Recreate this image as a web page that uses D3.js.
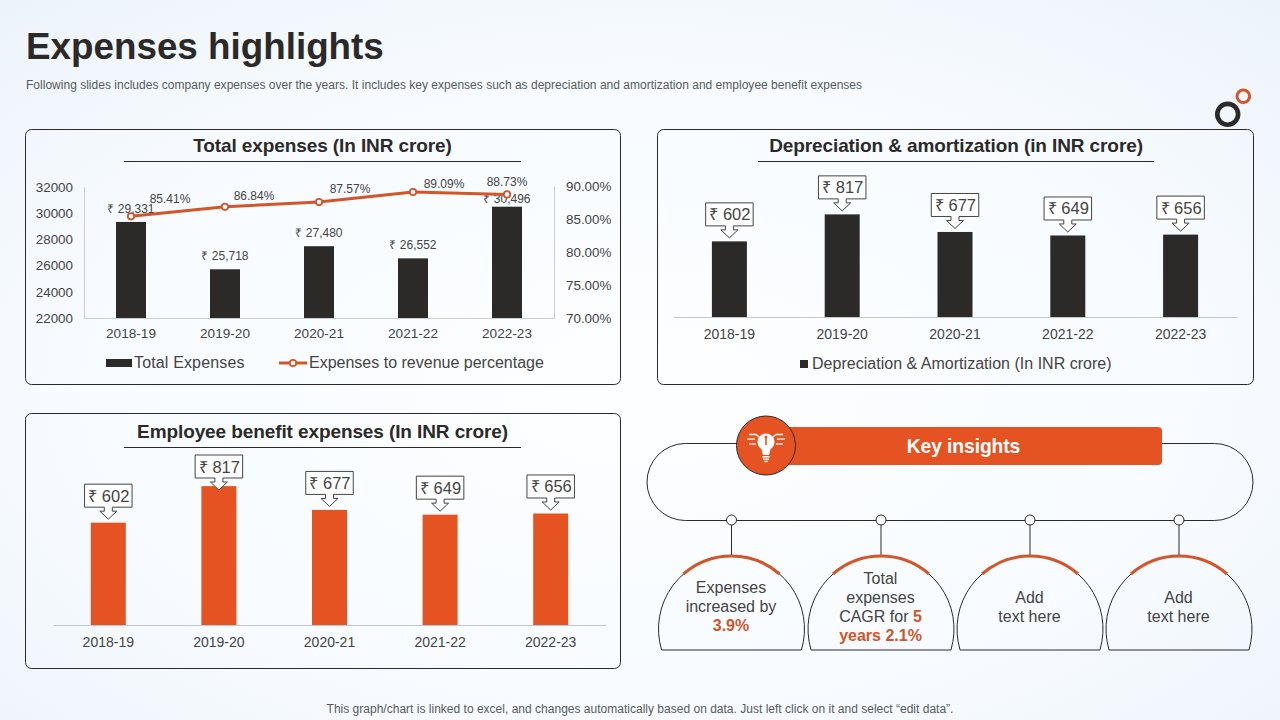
<!DOCTYPE html>
<html><head><meta charset="utf-8">
<script src="https://cdn.jsdelivr.net/npm/d3@7/dist/d3.min.js"></script>
<style>
html,body{margin:0;padding:0;width:1280px;height:720px;overflow:hidden;background:#f6faff}
svg{display:block}
text{font-family:"Liberation Sans",Arial,sans-serif}
</style></head><body><svg id="c" width="1280" height="720"></svg>
<script>
const years=["2018-19","2019-20","2020-21","2021-22","2022-23"];
const totalExpenses=[29331,25718,27480,26552,30496];
const expenseRatio=[85.41,86.84,87.57,89.09,88.73];
const depreciation=[602,817,677,649,656];
const employeeBenefit=[602,817,677,649,656];
const leftTicks=[22000,24000,26000,28000,30000,32000];
const rightTicks=[70,75,80,85,90];
const ratioNudgeX=[39,29,31,31,0];
const ratioNudgeY=[-17,-11,-13,-8,-12];

const INK="#2b2a29",ORANGE="#e55322",LINE="#d1562a",TXT="#444444";
const svg=d3.select("#c");
const defs=svg.append("defs");
const g=defs.append("radialGradient").attr("id","bg").attr("cx","50%").attr("cy","55%").attr("r","75%");
g.append("stop").attr("offset","0").attr("stop-color","#fdfeff");
g.append("stop").attr("offset","0.6").attr("stop-color","#f7fbff");
g.append("stop").attr("offset","1").attr("stop-color","#ecf3fa");
svg.append("rect").attr("width",1280).attr("height",720).attr("fill","url(#bg)");

function txt(p,x,y,s,o={}){
  return p.append("text").attr("x",x).attr("y",y).attr("text-anchor",o.a||"middle")
    .attr("font-size",o.s||14).attr("font-weight",o.w||400).attr("fill",o.f||TXT)
    .attr("letter-spacing",o.l||null).text(s);
}
txt(svg,26,59,"Expenses highlights",{a:"start",s:36.8,w:700,f:INK});
txt(svg,26,89,"Following slides includes company expenses over the years. It includes key expenses such as depreciation and amortization and employee benefit expenses",{a:"start",s:12,f:"#555b60",l:"0.015px"});
txt(svg,640,713,"This graph/chart is linked to excel, and changes automatically based on data. Just left click on it and select \u201cedit data\u201d.",{s:12,f:"#555b60",l:"0.01px"});

svg.append("circle").attr("cx",1227.7).attr("cy",114.3).attr("r",10.4).attr("fill","none").attr("stroke",INK).attr("stroke-width",4.6);
svg.append("circle").attr("cx",1243.3).attr("cy",96.3).attr("r",6.3).attr("fill","none").attr("stroke",LINE).attr("stroke-width",3);

function panel(x,y,w,h,title,ux1,ux2,uy,ty){
  svg.append("rect").attr("x",x).attr("y",y).attr("width",w).attr("height",h).attr("rx",6)
    .attr("fill","none").attr("stroke",INK).attr("stroke-width",1);
  txt(svg,(ux1+ux2)/2,ty,title,{s:19,w:700,f:INK,l:"-0.1px"});
  svg.append("line").attr("x1",ux1).attr("x2",ux2).attr("y1",uy).attr("y2",uy).attr("stroke",INK);
}
panel(25.5,129.5,595,255,"Total expenses (In INR crore)",124,521,161.5,151.5);
panel(657.5,129.5,596,255,"Depreciation & amortization (in INR crore)",758,1154,161.5,151.5);
panel(25.5,413.5,595,255,"Employee benefit expenses (In INR crore)",124,521,447.5,437.5);

function clean(a,color,size){
  a.selectAll("path").attr("stroke",color);
  a.selectAll("text").attr("font-size",size).attr("fill",TXT).attr("font-family",'"Liberation Sans",Arial,sans-serif');
}

// Total expenses chart
(function(){
  const x=d3.scaleBand().domain(years).range([84,554]);
  const y=d3.scaleLinear().domain([22000,32000]).range([318,187]);
  const yr=d3.scaleLinear().domain([70,90]).range([318,186]);
  const bw=30;
  const gr="#c9ced3";
  svg.append("g").attr("transform","translate(84,0)")
    .call(d3.axisLeft(y).tickValues(leftTicks).tickSize(0).tickPadding(11).tickFormat(d3.format("d")))
    .call(a=>clean(a,gr,13.4));
  svg.append("g").attr("transform","translate(554,0)")
    .call(d3.axisRight(yr).tickValues(rightTicks).tickSize(0).tickPadding(12).tickFormat(d=>d.toFixed(2)+"%"))
    .call(a=>clean(a,gr,13.4));
  svg.append("g").attr("transform","translate(0,318)")
    .call(d3.axisBottom(x).tickSize(0).tickPadding(10))
    .call(a=>clean(a,gr,13.6));
  const cx=d=>x(d)+x.bandwidth()/2;
  svg.append("g").selectAll("rect").data(years).join("rect")
    .attr("x",d=>cx(d)-bw/2).attr("width",bw)
    .attr("y",(d,i)=>y(totalExpenses[i])).attr("height",(d,i)=>318-y(totalExpenses[i])).attr("fill",INK);
  years.forEach((d,i)=>txt(svg,cx(d),Math.max(203,y(totalExpenses[i])-9),"\u20b9 "+d3.format(",")(totalExpenses[i]),{s:12}));
  const ln=d3.line().x(d=>cx(d)).y((d,i)=>yr(expenseRatio[i]));
  svg.append("path").attr("d",ln(years)).attr("fill","none").attr("stroke",LINE).attr("stroke-width",3);
  svg.append("g").selectAll("circle").data(years).join("circle")
    .attr("cx",cx).attr("cy",(d,i)=>yr(expenseRatio[i])).attr("r",3.2).attr("fill","#f8fbff").attr("stroke",LINE).attr("stroke-width",1.8);
  years.forEach((d,i)=>txt(svg,cx(d)+ratioNudgeX[i],yr(expenseRatio[i])+ratioNudgeY[i]+4,expenseRatio[i].toFixed(2)+"%",{s:12}));
  // legend
  svg.append("rect").attr("x",106).attr("y",359).attr("width",26).attr("height",8).attr("fill",INK);
  txt(svg,134,368,"Total Expenses",{a:"start",s:16,l:"0.15px"});
  svg.append("line").attr("x1",279).attr("x2",307).attr("y1",363).attr("y2",363).attr("stroke",LINE).attr("stroke-width",3);
  svg.append("circle").attr("cx",293).attr("cy",363).attr("r",3.2).attr("fill","#f8fbff").attr("stroke",LINE).attr("stroke-width",1.8);
  txt(svg,309,368,"Expenses to revenue percentage",{a:"start",s:16});
})();

// Callout column chart
function calloutBars(vals,x0,x1,base,span,bw,color,clampTop){
  const x=d3.scaleBand().domain(years).range([x0,x1]);
  const y=d3.scaleLinear().domain([0,1000]).range([base,base-span]);
  svg.append("g").attr("transform",`translate(0,${base})`)
    .call(d3.axisBottom(x).tickSize(0).tickPadding(12))
    .call(a=>clean(a,"#c4c8cc",14));
  const cx=d=>x(d)+x.bandwidth()/2;
  svg.append("g").selectAll("rect").data(years).join("rect")
    .attr("x",d=>cx(d)-bw/2).attr("width",bw)
    .attr("y",(d,i)=>y(vals[i])).attr("height",(d,i)=>base-y(vals[i])).attr("fill",color);
  const W=47.5,H=23;
  years.forEach((d,i)=>{
    const c=cx(d),top=y(vals[i]);
    const by=Math.max(clampTop+H,top-15.5);      // box bottom, clamped to plot top
    const tip=by+12;
    const dp=d3.path();
    dp.moveTo(c-W/2,by-H);dp.lineTo(c+W/2,by-H);dp.lineTo(c+W/2,by);
    dp.lineTo(c+4,by);dp.lineTo(c+4,by+4);dp.lineTo(c+8.5,by+4);dp.lineTo(c,tip);
    dp.lineTo(c-8.5,by+4);dp.lineTo(c-4,by+4);dp.lineTo(c-4,by);dp.lineTo(c-W/2,by);dp.closePath();
    svg.append("path").attr("d",dp.toString()).attr("fill","#ffffff").attr("stroke","#444").attr("stroke-width",1);
    txt(svg,c+0.5,by-5.5,"\u20b9 "+vals[i],{s:16.5});
  });
}
calloutBars(depreciation,673,1237,317,125.6,35,INK,170);
calloutBars(employeeBenefit,53,606,625,170,35,ORANGE,455);
svg.append("rect").attr("x",800).attr("y",360).attr("width",8).attr("height",8).attr("fill",INK);
txt(svg,812,369,"Depreciation & Amortization (In INR crore)",{a:"start",s:16,l:"0.02px"});

// Key insights
svg.append("path").attr("fill","none").attr("stroke",INK).attr("stroke-width",1)
  .attr("d","M737,443.5H685.5A38.5,38.5 0 0 0 685.5,520.5H1214.5A38.5,38.5 0 0 0 1214.5,443.5H1160");
svg.append("rect").attr("x",770).attr("y",427).attr("width",392).attr("height",38).attr("rx",4).attr("fill",ORANGE);
txt(svg,963.5,453,"Key insights",{s:19.3,w:700,f:"#fff",l:"-0.1px"});
svg.append("circle").attr("cx",766).attr("cy",445.5).attr("r",29.5).attr("fill",ORANGE).attr("stroke",INK).attr("stroke-width",1);
// bulb icon
const ic=svg.append("g").attr("fill","#fff");
ic.append("circle").attr("cx",766).attr("cy",442).attr("r",8.5);
ic.append("path").attr("d","M761,447L763,455H769L771,447Z");
ic.append("rect").attr("x",762.5).attr("y",456).attr("width",7).attr("height",1.6);
ic.append("rect").attr("x",763).attr("y",458.5).attr("width",6).attr("height",1.6);
ic.append("rect").attr("x",764.5).attr("y",460.8).attr("width",3).attr("height",1.4);
ic.append("rect").attr("x",765.2).attr("y",436).attr("width",1.6).attr("height",9).attr("fill",ORANGE);
ic.append("circle").attr("cx",766).attr("cy",437).attr("r",1.5).attr("fill",ORANGE);
const ray=svg.append("g").attr("stroke","#fff").attr("stroke-width",1.3).attr("fill","none");
[[-1,"M749,434.5H756L759,437"],[-1,"M747,439H755"],[-1,"M749,444H756"],[1,"M783,434.5H776L773,437"],[1,"M785,439H777"],[1,"M783,444H776"]]
  .forEach(r=>ray.append("path").attr("d",r[1]));

const domeX=[731.5,881,1030,1179];
const domeLines=[
  [[["Expenses",0]],[["increased by",0]],[["3.9%",1]]],
  [[["Total",0]],[["expenses",0]],[["CAGR for ",0],["5",1]],[["years 2.1%",1]]],
  [[["Add",0]],[["text here",0]]],
  [[["Add",0]],[["text here",0]]]
];
const R=73,cy=629,by=650;
domeX.forEach((c,i)=>{
  svg.append("line").attr("x1",c).attr("x2",c).attr("y1",520).attr("y2",556).attr("stroke",INK);
  svg.append("circle").attr("cx",c).attr("cy",520).attr("r",5).attr("fill","#fbfdff").attr("stroke",INK).attr("stroke-width",1);
  const dx=Math.sqrt(R*R-(by-cy)*(by-cy));
  svg.append("path").attr("fill","none").attr("stroke",INK).attr("stroke-width",1)
    .attr("d",`M${c-dx},${by}A${R},${R} 0 1 1 ${c+dx},${by}Z`);
  const ax=48,ay=Math.sqrt(R*R-ax*ax);
  svg.append("path").attr("fill","none").attr("stroke",LINE).attr("stroke-width",3)
    .attr("d",`M${c-ax},${cy-ay}A${R},${R} 0 0 1 ${c+ax},${cy-ay}`);
  const L=domeLines[i],step=19;
  const y0=(L.length===4?584:L.length===3?593:603);
  L.forEach((parts,k)=>{
    const t=svg.append("text").attr("x",c-0.5).attr("y",y0+k*step).attr("text-anchor","middle").attr("font-size",16).attr("fill",TXT);
    parts.forEach(p=>t.append("tspan").attr("font-weight",p[1]?700:400).attr("fill",p[1]?"#d1562a":TXT).text(p[0]));
  });
});
</script></body></html>
